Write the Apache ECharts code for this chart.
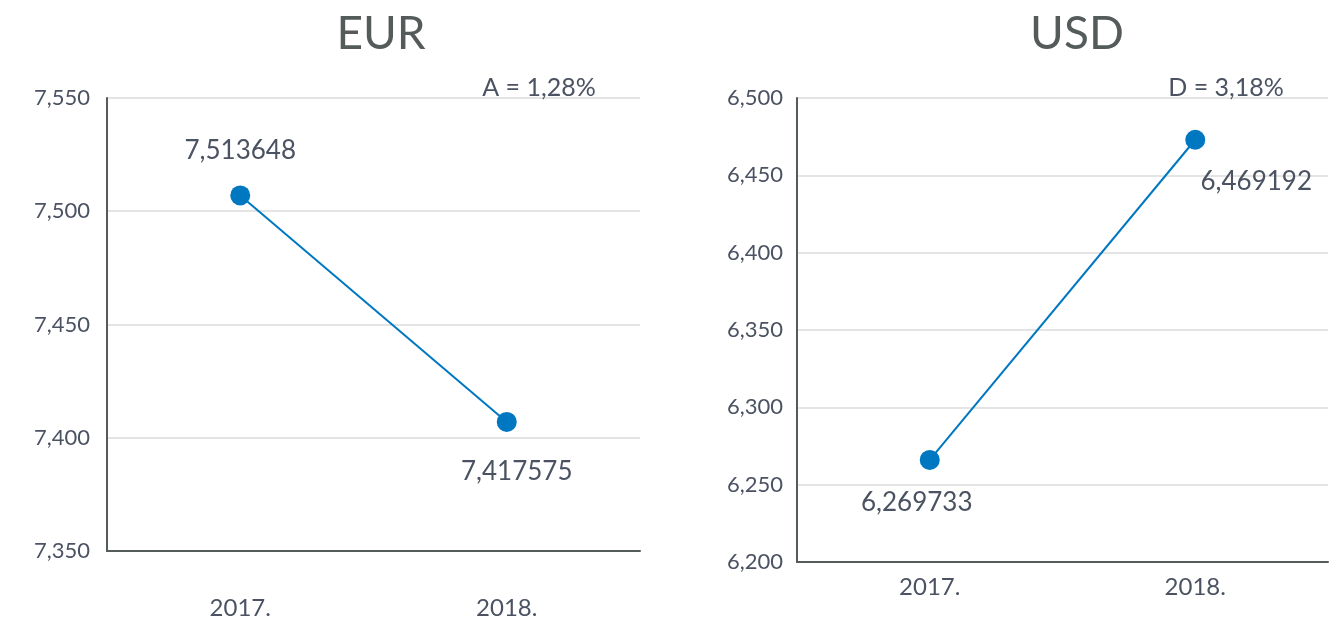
<!DOCTYPE html>
<html>
<head>
<meta charset="utf-8">
<title>EUR / USD</title>
<script src="https://cdn.jsdelivr.net/npm/echarts@6/dist/echarts.min.js"></script>
<style>
    html, body { margin: 0; padding: 0; background: #fff; }
    #chart { width: 1342px; height: 625px; }
</style>
</head>
<body>
<div id="chart"></div>
<script>
// categories (years)
const years = ["2017.", "2018."];

// EUR: plotted positions and the printed value labels
const eurValues = [7.507, 7.407];
const eurLabels = ["7,513648", "7,417575"];
const eurTicks = { min: 7.35, max: 7.55, interval: 0.05 };
const eurNote = "A = 1,28%";

// USD
const usdValues = [6.266, 6.473];
const usdLabels = ["6,269733", "6,469192"];
const usdTicks = { min: 6.2, max: 6.5, interval: 0.05 };
const usdNote = "D = 3,18%";

const font = "Lato, 'Open Sans', sans-serif";
const textColor = "#4b5262";
const lineColor = "#0077c1";

// label offsets per point, relative to the marker centre
const eurOffsets = [[0, -45], [10, 50]];
const usdOffsets = [[-13, 43], [61, 42]];

const chart = echarts.init(document.getElementById("chart"));

function comma(v) {
    return v.toFixed(3).replace(".", ",");
}

function makeSeries(idx, values, labels, offsets) {
    return {
        type: "line",
        xAxisIndex: idx,
        yAxisIndex: idx,
        symbol: "circle",
        symbolSize: 20,
        lineStyle: { color: lineColor, width: 2 },
        itemStyle: { color: lineColor },
        animation: false,
        data: values.map(function (v, i) {
            return {
                value: v,
                label: {
                    show: true,
                    position: "inside",
                    offset: offsets[i],
                    formatter: labels[i],
                    color: textColor,
                    fontSize: 26,
                    fontFamily: font,
                },
            };
        }),
    };
}

function yAxis(idx, ticks, margin) {
    return {
        type: "value",
        gridIndex: idx,
        min: ticks.min,
        max: ticks.max,
        interval: ticks.interval,
        axisLine: { show: true, lineStyle: { color: "#555a5a", width: 2 } },
        axisTick: { show: false },
        axisLabel: {
            formatter: comma,
            color: textColor,
            fontSize: 22,
            fontFamily: font,
            margin: margin,
        },
        splitLine: { lineStyle: { color: "#e4e4e4", width: 2 } },
    };
}

function xAxis(idx, margin) {
    return {
        type: "category",
        gridIndex: idx,
        data: years,
        boundaryGap: true,
        axisLine: { lineStyle: { color: "#555a5a", width: 2 } },
        axisTick: { show: false },
        axisLabel: {
            color: textColor,
            fontSize: 24,
            fontFamily: font,
            margin: margin,
        },
    };
}

const titleStyle = { color: "#555b5b", fontSize: 46, fontWeight: "normal", fontFamily: font };
const noteStyle = { color: textColor, fontSize: 25, fontWeight: "normal", fontFamily: font };

chart.setOption({
    backgroundColor: "#fff",
    title: [
        { text: "EUR", left: 376, top: 6, textAlign: "center", textStyle: titleStyle },
        { text: "USD", left: 1072, top: 6, textAlign: "center", textStyle: titleStyle },
        { text: eurNote, left: 534, top: 70, textAlign: "center", textStyle: noteStyle },
        { text: usdNote, left: 1221, top: 70, textAlign: "center", textStyle: noteStyle },
    ],
    grid: [
        { left: 107, right: 702, top: 98, bottom: 74 },
        { left: 797, right: 14, top: 98, bottom: 63 },
    ],
    xAxis: [xAxis(0, 45), xAxis(1, 13)],
    yAxis: [yAxis(0, eurTicks, 17), yAxis(1, usdTicks, 14)],
    series: [
        makeSeries(0, eurValues, eurLabels, eurOffsets),
        makeSeries(1, usdValues, usdLabels, usdOffsets),
    ],
});
</script>
</body>
</html>
